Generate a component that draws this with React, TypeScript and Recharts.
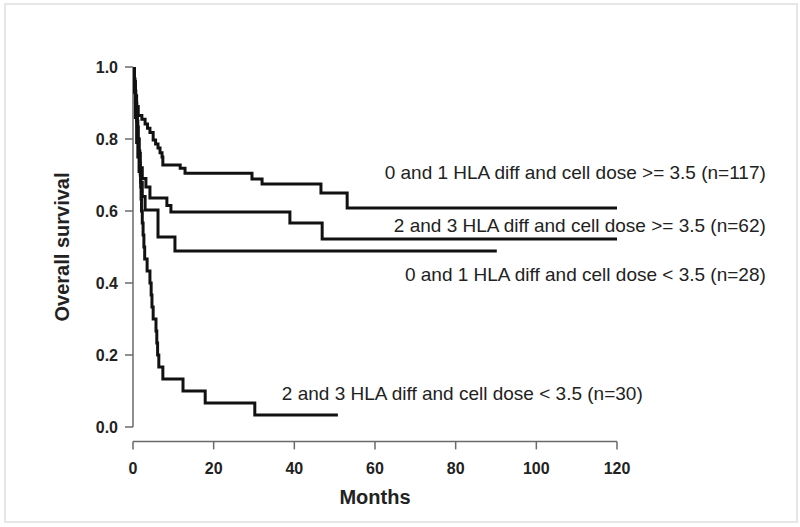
import React from 'react';
import { LineChart, Line, XAxis, YAxis, ReferenceLine, ReferenceDot } from 'recharts';

const monthTicks = [0, 20, 40, 60, 80, 100, 120];
const survivalTicks = [0, 0.2, 0.4, 0.6, 0.8, 1.0];

// 0 and 1 HLA diff and cell dose >= 3.5 (n=117)
const groupA = [
  { t: 0, s: 1.0 }, { t: 0.3, s: 0.96 }, { t: 0.6, s: 0.92 }, { t: 0.9, s: 0.89 },
  { t: 1.3, s: 0.865 }, { t: 2.2, s: 0.855 }, { t: 3.0, s: 0.842 }, { t: 3.6, s: 0.83 },
  { t: 4.2, s: 0.818 }, { t: 5.0, s: 0.797 }, { t: 5.6, s: 0.786 }, { t: 6.2, s: 0.775 },
  { t: 6.7, s: 0.762 }, { t: 7.2, s: 0.75 }, { t: 7.4, s: 0.728 }, { t: 11.7, s: 0.719 },
  { t: 12.9, s: 0.705 }, { t: 29.5, s: 0.689 }, { t: 32.0, s: 0.675 }, { t: 46.6, s: 0.65 },
  { t: 53.1, s: 0.608 }, { t: 120, s: 0.608 },
];

// 2 and 3 HLA diff and cell dose >= 3.5 (n=62)
const groupB = [
  { t: 0, s: 1.0 }, { t: 0.3, s: 0.95 }, { t: 0.6, s: 0.9 }, { t: 0.9, s: 0.85 },
  { t: 1.2, s: 0.8 }, { t: 1.5, s: 0.76 }, { t: 1.8, s: 0.72 }, { t: 2.3, s: 0.69 },
  { t: 3.2, s: 0.667 }, { t: 4.2, s: 0.636 }, { t: 8.4, s: 0.615 }, { t: 9.4, s: 0.597 },
  { t: 38.9, s: 0.567 }, { t: 46.9, s: 0.522 }, { t: 120, s: 0.522 },
];

// 0 and 1 HLA diff and cell dose < 3.5 (n=28)
const groupC = [
  { t: 0, s: 1.0 }, { t: 0.3, s: 0.93 }, { t: 0.6, s: 0.86 }, { t: 0.9, s: 0.79 },
  { t: 1.2, s: 0.75 }, { t: 1.5, s: 0.71 }, { t: 1.9, s: 0.68 }, { t: 2.3, s: 0.64 },
  { t: 3.0, s: 0.603 }, { t: 6.2, s: 0.528 }, { t: 10.4, s: 0.489 }, { t: 90.2, s: 0.489 },
];

// 2 and 3 HLA diff and cell dose < 3.5 (n=30)
const groupD = [
  { t: 0, s: 1.0 }, { t: 0.3, s: 0.967 }, { t: 0.5, s: 0.933 }, { t: 0.7, s: 0.9 },
  { t: 0.9, s: 0.867 }, { t: 1.1, s: 0.833 }, { t: 1.3, s: 0.8 }, { t: 1.5, s: 0.767 },
  { t: 1.7, s: 0.733 }, { t: 1.8, s: 0.7 }, { t: 1.9, s: 0.667 }, { t: 2.0, s: 0.633 },
  { t: 2.1, s: 0.6 }, { t: 2.3, s: 0.567 }, { t: 2.5, s: 0.533 }, { t: 2.7, s: 0.5 },
  { t: 2.9, s: 0.467 }, { t: 3.5, s: 0.433 }, { t: 4.2, s: 0.4 }, { t: 4.5, s: 0.367 },
  { t: 4.7, s: 0.333 }, { t: 5.0, s: 0.3 }, { t: 5.7, s: 0.267 }, { t: 5.9, s: 0.233 },
  { t: 6.1, s: 0.2 }, { t: 6.4, s: 0.167 }, { t: 7.4, s: 0.133 }, { t: 12.4, s: 0.1 },
  { t: 17.9, s: 0.067 }, { t: 30.2, s: 0.033 }, { t: 50.8, s: 0.033 },
];

const curveLabels = [
  { text: '0 and 1 HLA diff and cell dose >= 3.5 (n=117)', t: 156.9, s: 0.708, anchor: 'end' },
  { text: '2 and 3 HLA diff and cell dose >= 3.5 (n=62)', t: 156.9, s: 0.561, anchor: 'end' },
  { text: '0 and 1 HLA diff and cell dose < 3.5 (n=28)', t: 156.9, s: 0.425, anchor: 'end' },
  { text: '2 and 3 HLA diff and cell dose < 3.5 (n=30)', t: 36.9, s: 0.094, anchor: 'start' },
];

const FONT = '"Liberation Sans", Arial, Helvetica, sans-serif';
const AXIS_COLOR = '#6a6a6a';
const TEXT_COLOR = '#222';
const CURVE_COLOR = '#111';

export default function App() {
  return (
    <div style={{ position: 'absolute', left: 0, top: 0, width: 800, height: 527, background: '#fff' }}>
      <div
        style={{
          position: 'absolute', left: 4, top: 3, width: 790, height: 516,
          border: '2px solid #e6e6e6', boxSizing: 'content-box',
        }}
      />
      <div style={{ position: 'absolute', left: 0, top: 0 }}>
        <LineChart
          width={800}
          height={527}
          margin={{ top: 67, right: 183, left: 73, bottom: 15.6 }}
          style={{ fontFamily: FONT }}
        >
          <XAxis
            dataKey="t"
            type="number"
            domain={[0, 120]}
            ticks={monthTicks}
            allowDataOverflow
            height={70}
            tickSize={8}
            tickMargin={13}
            axisLine={{ stroke: AXIS_COLOR, strokeWidth: 1.5 }}
            tickLine={{ stroke: AXIS_COLOR, strokeWidth: 1.5 }}
            tick={{ fill: TEXT_COLOR, fontSize: 16, fontWeight: 'bold', fontFamily: FONT }}
            label={{
              content: (props: any) => {
                const vb = props.viewBox;
                return (
                  <text
                    x={vb.x + vb.width / 2}
                    y={vb.y + 56}
                    textAnchor="middle"
                    dominantBaseline="central"
                    fill={TEXT_COLOR}
                    fontSize={20}
                    fontWeight="bold"
                    fontFamily={FONT}
                  >
                    Months
                  </text>
                );
              },
            }}
          />
          <YAxis
            type="number"
            domain={[-0.04, 1]}
            ticks={survivalTicks}
            allowDataOverflow
            width={60}
            tickSize={8}
            tickMargin={7}
            axisLine={false}
            tickLine={{ stroke: AXIS_COLOR, strokeWidth: 1.5 }}
            tickFormatter={(v: number) => v.toFixed(1)}
            tick={{ fill: TEXT_COLOR, fontSize: 16, fontWeight: 'bold', fontFamily: FONT }}
            label={{
              content: (props: any) => {
                const vb = props.viewBox;
                const cx = vb.x - 11;
                const cy = vb.y + 180;
                return (
                  <text
                    x={cx}
                    y={cy}
                    transform={`rotate(-90 ${cx} ${cy})`}
                    textAnchor="middle"
                    dominantBaseline="central"
                    fill={TEXT_COLOR}
                    fontSize={20}
                    fontWeight="bold"
                    fontFamily={FONT}
                  >
                    Overall survival
                  </text>
                );
              },
            }}
          />
          <ReferenceLine
            segment={[{ x: 0, y: 0 }, { x: 0, y: 1 }]}
            stroke={AXIS_COLOR}
            strokeWidth={1.5}
          />
          <Line data={groupD} dataKey="s" type="stepAfter" stroke={CURVE_COLOR} strokeWidth={3} dot={false} isAnimationActive={false} />
          <Line data={groupC} dataKey="s" type="stepAfter" stroke={CURVE_COLOR} strokeWidth={3} dot={false} isAnimationActive={false} />
          <Line data={groupB} dataKey="s" type="stepAfter" stroke={CURVE_COLOR} strokeWidth={3} dot={false} isAnimationActive={false} />
          <Line data={groupA} dataKey="s" type="stepAfter" stroke={CURVE_COLOR} strokeWidth={3} dot={false} isAnimationActive={false} />
          {curveLabels.map((l) => (
            <ReferenceDot
              key={l.text}
              x={l.t}
              y={l.s}
              r={0}
              ifOverflow="visible"
              stroke="none"
              fill="none"
              label={{
                content: (props: any) => {
                  const vb = props.viewBox;
                  return (
                    <text
                      x={vb.x + (vb.width || 0) / 2}
                      y={vb.y + (vb.height || 0) / 2}
                      textAnchor={l.anchor as any}
                      dominantBaseline="central"
                      fill={TEXT_COLOR}
                      fontSize={19}
                      fontFamily={FONT}
                    >
                      {l.text}
                    </text>
                  );
                },
              }}
            />
          ))}
        </LineChart>
      </div>
    </div>
  );
}
